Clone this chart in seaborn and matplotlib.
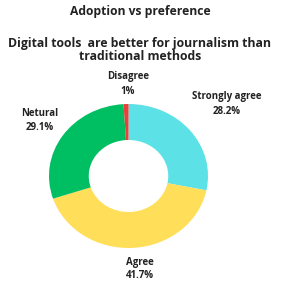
import matplotlib
matplotlib.use("Agg")
import matplotlib.pyplot as plt
import seaborn as sns

categories = ["Strongly agree", "Agree", "Netural", "Disagree"]
values = [28.2, 41.7, 29.1, 1.0]
value_labels = ["28.2%", "41.7%", "29.1%", "1%"]
colors = ["#5CE1E6", "#FFDE59", "#00BF63", "#E8403A"]

sns.set_theme(style="white")
plt.rcParams['font.family'] = ['Open Sans', 'DejaVu Sans']

W, H = 284, 281
fig = plt.figure(figsize=(W / 100, H / 100), dpi=100)
fig.patch.set_facecolor("white")

cx, cy, rx, ry = 128.5, 176, 79.5, 72
ax = fig.add_axes([(cx - rx) / W, (H - cy - ry) / H, 2 * rx / W, 2 * ry / H])
ax.pie(values, colors=colors, startangle=90, counterclock=False,
       wedgeprops=dict(width=0.5, edgecolor="none"), radius=1)
ax.set_aspect("auto")
ax.set_xlim(-1, 1)
ax.set_ylim(-1, 1)
ax.axis("off")

def ftext(x, y, s, size, **kw):
    fig.text(x / W, 1 - y / H, s, ha="center", va="center", fontsize=size,
             fontweight="bold", color="#222222", **kw)

ftext(140, 11, "Adoption vs preference", 8.7)
ftext(140, 43, "Digital tools  are better for journalism than", 8.8)
ftext(140, 57, "traditional methods", 8.8)

label_pos = {
    "Strongly agree": (227, 97, 112),
    "Agree": (140, 262, 276),
    "Netural": (40, 114, 127),
    "Disagree": (128, 77, 91),
}
for cat, vl in zip(categories, value_labels):
    x, y1, y2 = label_pos[cat]
    ftext(x, y1, cat, 7)
    ftext(x, y2, vl, 7)

fig.savefig("out.png", dpi=100, facecolor="white")
